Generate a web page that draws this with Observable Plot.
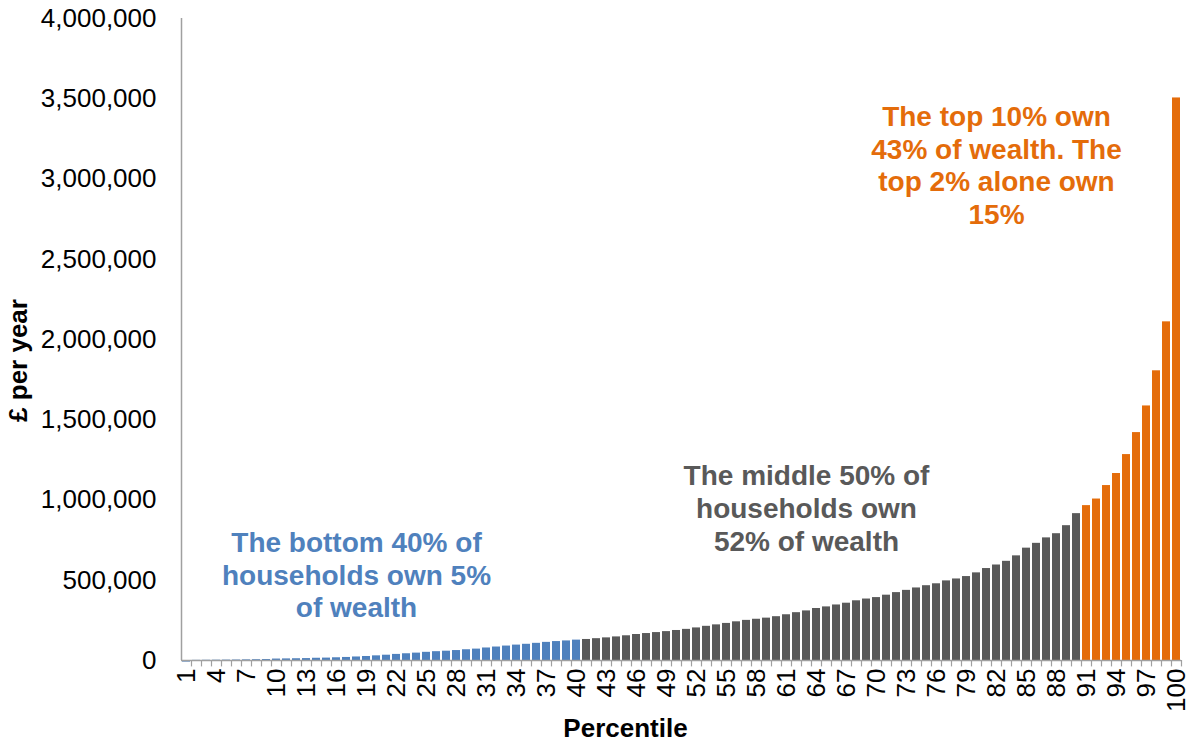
<!DOCTYPE html>
<html>
<head>
<meta charset="utf-8">
<script src="https://cdn.jsdelivr.net/npm/d3@7"></script>
<script src="https://cdn.jsdelivr.net/npm/@observablehq/plot@0.6"></script>
<style>
  html, body { margin: 0; padding: 0; background: #fff; }
  #chart { width: 1199px; height: 744px; }
</style>
</head>
<body>
<div id="chart"></div>
<script>
// Percentile categories 1..100
const percentiles = d3.range(1, 101);

// Household wealth (£) per percentile
const wealth = [
  -10000, 1000, 1500, 2000, 2500, 3000, 4000, 5000, 6000, 9000,
  10000, 11000, 12000, 14000, 15000, 17000, 19000, 22000, 25000, 29000,
  33000, 38000, 42000, 46000, 51000, 55000, 58000, 62000, 67000, 71000,
  78000, 84000, 90000, 96000, 101000, 107000, 113000, 118000, 122000, 127000,
  131000, 136000, 141000, 147000, 154000, 162000, 168000, 174000, 180000, 187000,
  194000, 203000, 213000, 222000, 231000, 241000, 250000, 257000, 264000, 273000,
  285000, 298000, 309000, 324000, 334000, 346000, 357000, 372000, 383000, 392000,
  407000, 423000, 437000, 452000, 466000, 478000, 496000, 508000, 523000, 546000,
  573000, 595000, 618000, 652000, 700000, 730000, 764000, 790000, 840000, 915000,
  965000, 1006000, 1090000, 1165000, 1283000, 1420000, 1586000, 1805000, 2110000, 3505000
];

// Groups: bottom 40%, middle 50%, top 10%
const groupNames = ["bottom", "middle", "top"];
const groupColors = ["#4F81BD", "#595959", "#E46C0A"];
const groupOf = p => (p <= 40 ? "bottom" : p <= 90 ? "middle" : "top");

// Axis ticks
const yTicks = [0, 500000, 1000000, 1500000, 2000000, 2500000, 3000000, 3500000, 4000000];
const xLabelTicks = percentiles.filter(p => (p - 1) % 3 === 0);

// Annotations
const noteTexts = [
  "The bottom 40% of\nhouseholds own 5%\nof wealth",
  "The middle 50% of\nhouseholds own\n52% of wealth",
  "The top 10% own\n43% of wealth. The\ntop 2% alone own\n15%"
];
const noteX = [18, 63, 82];
const noteY = [538000, 953000, 3090000];
const noteGroups = ["bottom", "middle", "top"];

const data = percentiles.map((p, i) => ({p, w: wealth[i], g: groupOf(p)}));
const notes = noteTexts.map((t, i) => ({text: t, x: noteX[i], y: noteY[i], g: noteGroups[i]}));

const axisColor = "#A0A0A0";

const chart = Plot.plot({
  width: 1199,
  height: 744,
  marginLeft: 181,
  marginRight: 18,
  marginTop: 18,
  marginBottom: 84,
  style: {
    fontFamily: "'Liberation Sans', Arial, sans-serif",
    fontSize: "26px",
    color: "#000",
    background: "#fff"
  },
  x: {type: "band", domain: percentiles, paddingInner: 0.25, paddingOuter: 0.125, axis: null},
  y: {domain: [0, 4000000], axis: null},
  color: {domain: groupNames, range: groupColors},
  marks: [
    Plot.barY(data, {x: "p", y: "w", fill: "g"}),
    Plot.ruleY([0], {stroke: axisColor, strokeWidth: 1.5}),
    Plot.ruleX([1], {x: d => d, y1: 0, y2: 4000000, dx: -5, stroke: axisColor, strokeWidth: 1.5}),
    Plot.ruleX(percentiles, {x: d => d, y1: 0, y2: -40000, dx: 5, stroke: axisColor, strokeWidth: 1.2}),
    Plot.axisY({ticks: yTicks, tickFormat: d3.format(","), tickSize: 0, tickPadding: 25, label: null, fontSize: 26}),
    Plot.axisX({ticks: xLabelTicks, tickSize: 0, tickPadding: 8, tickRotate: -90, label: null, fontSize: 26}),
    Plot.text(notes, {
      x: "x", y: "y", text: "text", fill: "g",
      fontSize: 28, fontWeight: "bold", lineHeight: 1.17, textAnchor: "middle"
    }),
    Plot.text(["Percentile"], {frameAnchor: "bottom", textAnchor: "middle", lineAnchor: "middle", dx: -56, dy: 68, fontWeight: "bold", fontSize: 26, fill: "#000"}),
    Plot.text(["£ per year"], {frameAnchor: "left", textAnchor: "middle", lineAnchor: "middle", rotate: -90, dx: -163, dy: 21, fontWeight: "bold", fontSize: 26, fill: "#000"})
  ]
});

document.getElementById("chart").appendChild(chart);
</script>
</body>
</html>
